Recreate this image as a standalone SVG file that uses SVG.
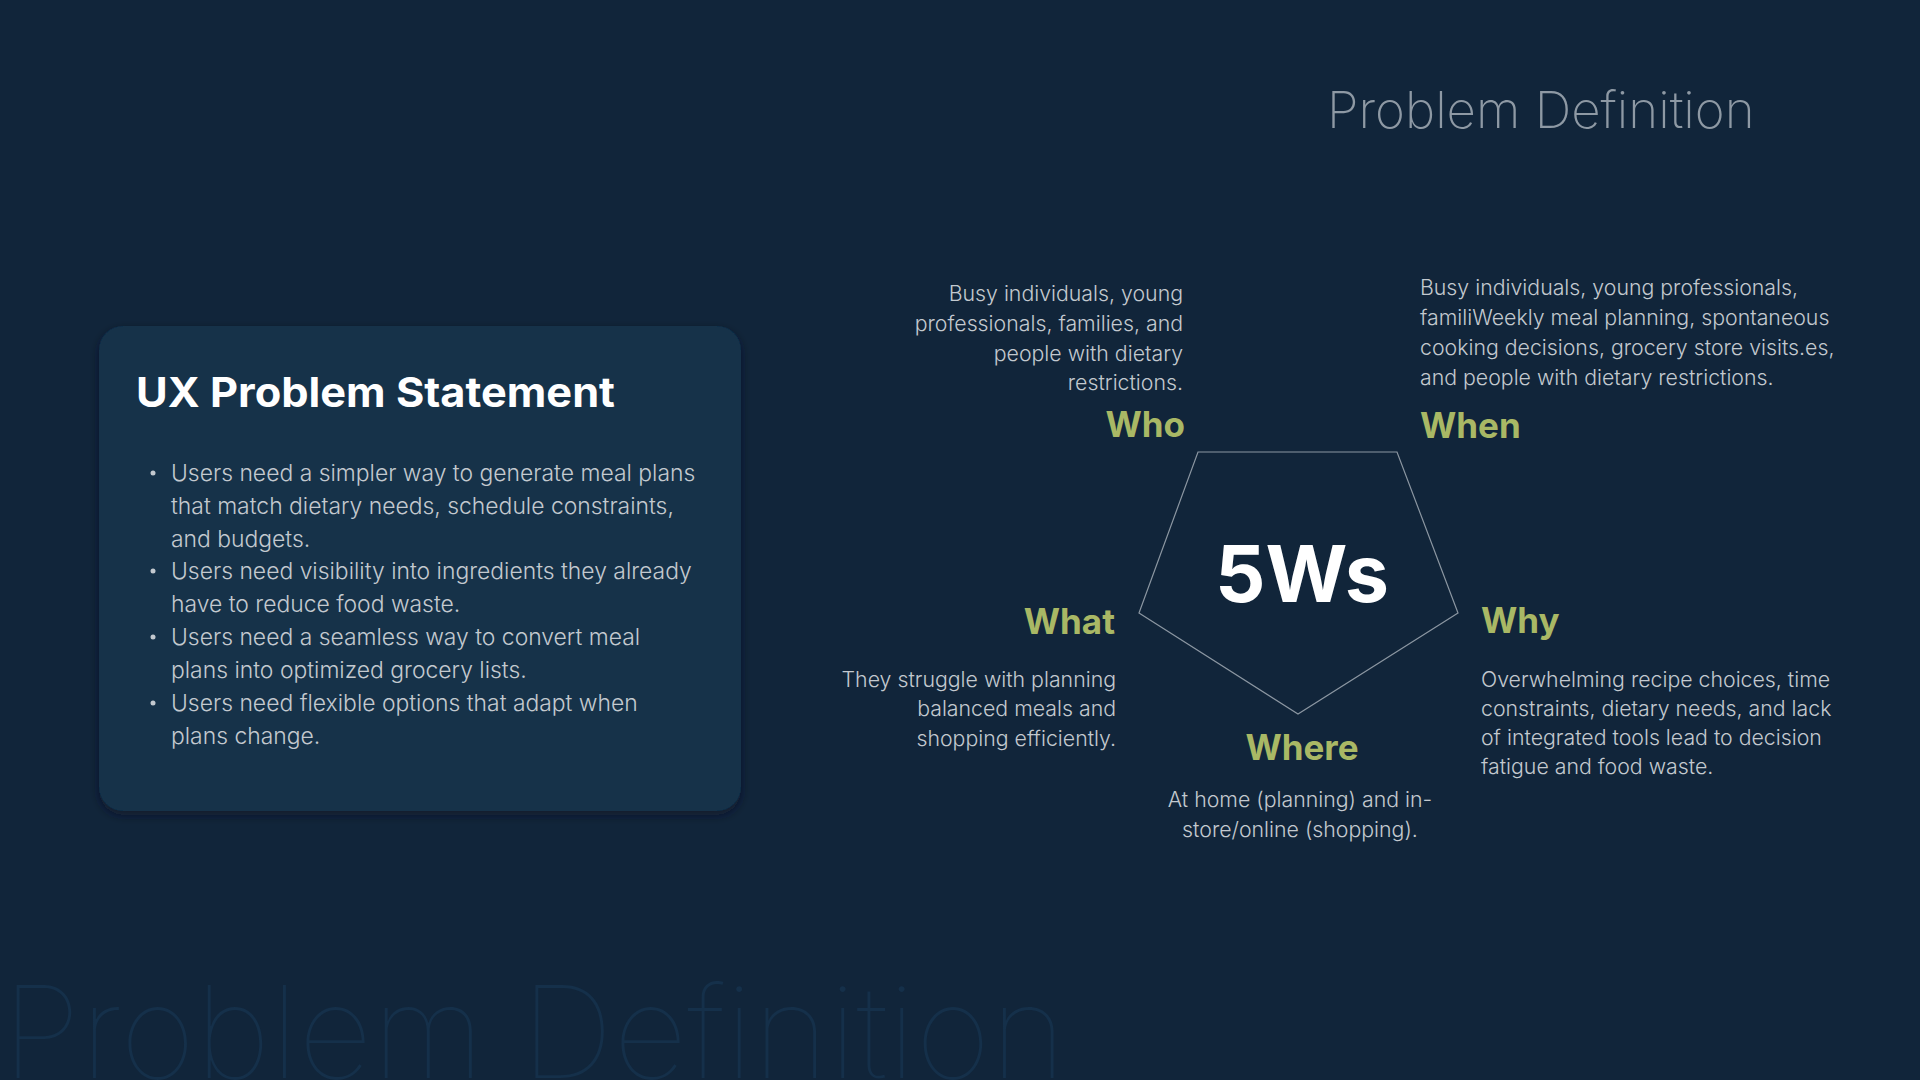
<svg xmlns="http://www.w3.org/2000/svg" width="1920" height="1080" viewBox="0 0 1920 1080">
<defs>
<style>
.bg{fill:#11253a}
.wm{font-family:Inter,"Noto Sans",sans-serif;font-weight:100;font-size:128px;fill:#15304a}
.title{font-family:Inter,"Noto Sans",sans-serif;font-weight:200;font-size:51px;fill:#8e99a4}
.card{fill:#12304a}
.h{font-family:Inter,"Noto Sans",sans-serif;font-weight:700;font-size:41px;fill:#ffffff}
.b{font-family:Inter,"Noto Sans",sans-serif;font-weight:300;font-size:22.9px;fill:#c3c9cf}
.d{font-family:Inter,"Noto Sans",sans-serif;font-weight:300;font-size:21.3px;fill:#c3c9cf}
.w{font-family:Inter,"Noto Sans",sans-serif;font-weight:700;font-size:35px;fill:#a9b865}
.big{font-family:Inter,"Noto Sans",sans-serif;font-weight:700;font-size:79px;fill:#ffffff}
.pent{fill:none;stroke:#8c97a2;stroke-width:1.2}
.dot{fill:#c3c9cf}
</style>
<filter id="sh" x="-10%" y="-10%" width="120%" height="130%">
<feDropShadow dx="0" dy="4" stdDeviation="5" flood-color="#0a1826" flood-opacity="0.6"/>
</filter>
</defs>
<rect class="bg" x="0" y="0" width="1920" height="1080"/>
<text class="wm" x="2" y="1078" textLength="1064" lengthAdjust="spacingAndGlyphs">Problem Definition</text>
<text class="title" x="1327" y="128">Problem Definition</text>

<g id="card">
<rect class="card" x="99" y="326" width="642" height="485" rx="24" filter="url(#sh)"/>
<text class="h" x="136" y="407" textLength="479" lengthAdjust="spacingAndGlyphs">UX Problem Statement</text>
<circle class="dot" cx="153" cy="473" r="2.5"/>
<circle class="dot" cx="153" cy="571" r="2.5"/>
<circle class="dot" cx="153" cy="637" r="2.5"/>
<circle class="dot" cx="153" cy="703" r="2.5"/>
<text class="b" x="171" y="481">Users need a simpler way to generate meal plans</text>
<text class="b" x="171" y="514">that match dietary needs, schedule constraints,</text>
<text class="b" x="171" y="547">and budgets.</text>
<text class="b" x="171" y="579">Users need visibility into ingredients they already</text>
<text class="b" x="171" y="612">have to reduce food waste.</text>
<text class="b" x="171" y="645">Users need a seamless way to convert meal</text>
<text class="b" x="171" y="678">plans into optimized grocery lists.</text>
<text class="b" x="171" y="711">Users need flexible options that adapt when</text>
<text class="b" x="171" y="744">plans change.</text>
</g>

<g id="connectors">
<polygon class="pent" points="1198,452 1397,452 1458,613 1298,714 1139,613"/>
</g>

<g id="center">
<text class="big" x="1302" y="602" text-anchor="middle">5Ws</text>
</g>

<g id="who">
<text class="d" x="1183" y="301" text-anchor="end">Busy individuals, young</text>
<text class="d" x="1183" y="331" text-anchor="end">professionals, families, and</text>
<text class="d" x="1183" y="361" text-anchor="end">people with dietary</text>
<text class="d" x="1183" y="390" text-anchor="end">restrictions.</text>
<text class="w" x="1185" y="437" text-anchor="end">Who</text>
</g>

<g id="when">
<text class="d" x="1420" y="295">Busy individuals, young professionals,</text>
<text class="d" x="1420" y="325">familiWeekly meal planning, spontaneous</text>
<text class="d" x="1420" y="355">cooking decisions, grocery store visits.es,</text>
<text class="d" x="1420" y="385">and people with dietary restrictions.</text>
<text class="w" x="1420" y="438">When</text>
</g>

<g id="what">
<text class="w" x="1115" y="634" text-anchor="end">What</text>
<text class="d" x="1116" y="687" text-anchor="end">They struggle with planning</text>
<text class="d" x="1116" y="716" text-anchor="end">balanced meals and</text>
<text class="d" x="1116" y="746" text-anchor="end">shopping efficiently.</text>
</g>

<g id="where">
<text class="w" x="1302" y="760" text-anchor="middle">Where</text>
<text class="d" x="1300" y="807" text-anchor="middle">At home (planning) and in-</text>
<text class="d" x="1300" y="837" text-anchor="middle">store/online (shopping).</text>
</g>

<g id="why">
<text class="w" x="1481" y="633">Why</text>
<text class="d" x="1481" y="687">Overwhelming recipe choices, time</text>
<text class="d" x="1481" y="716">constraints, dietary needs, and lack</text>
<text class="d" x="1481" y="745">of integrated tools lead to decision</text>
<text class="d" x="1481" y="774">fatigue and food waste.</text>
</g>
</svg>
